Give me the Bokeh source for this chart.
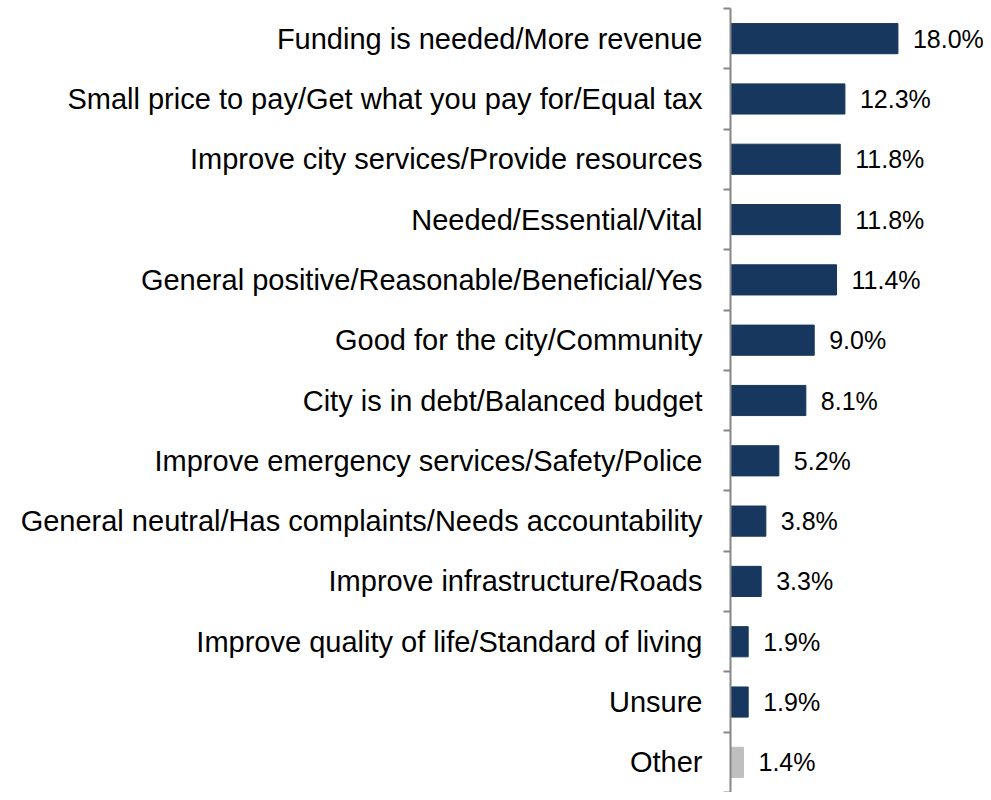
from bokeh.plotting import figure
from bokeh.models import ColumnDataSource, FixedTicker, Range1d
from bokeh.core.properties import value
from bokeh.embed import file_html
from bokeh.resources import INLINE

categories = [
    "Funding is needed/More revenue",
    "Small price to pay/Get what you pay for/Equal tax",
    "Improve city services/Provide resources",
    "Needed/Essential/Vital",
    "General positive/Reasonable/Beneficial/Yes",
    "Good for the city/Community",
    "City is in debt/Balanced budget",
    "Improve emergency services/Safety/Police",
    "General neutral/Has complaints/Needs accountability",
    "Improve infrastructure/Roads",
    "Improve quality of life/Standard of living",
    "Unsure",
    "Other",
]
values = [18.0, 12.3, 11.8, 11.8, 11.4, 9.0, 8.1, 5.2, 3.8, 3.3, 1.9, 1.9, 1.4]
labels = [f"{v:.1f}%" for v in values]

NAVY = "#17375E"
GRAY = "#BFBFBF"
colors = [GRAY if c == "Other" else NAVY for c in categories]

n = len(categories)
ypos = list(range(n))

src = ColumnDataSource(dict(y=ypos, v=values, lab=labels, color=colors))

p = figure(width=983, height=792, output_backend="svg", toolbar_location=None,
           x_range=Range1d(0, 27.2), y_range=Range1d(n - 0.5, -0.5),
           min_border_left=730, min_border_right=0, min_border_top=8, min_border_bottom=0)

p.hbar(y="y", left=0, right="v", height=0.5, color="color", line_color="color", source=src)
p.text(x="v", y="y", text="lab", source=src, x_offset=15, text_baseline="middle",
       text_align="left", text_font=value("Liberation Sans"), text_font_size="25px",
       text_color="#000000")

p.xaxis.visible = False
p.xgrid.visible = False
p.ygrid.visible = False
p.outline_line_color = None

yax = p.yaxis[0]
yax.ticker = FixedTicker(ticks=ypos, minor_ticks=[i - 0.5 for i in range(n + 1)])
yax.major_label_overrides = {i: c for i, c in enumerate(categories)}
yax.major_tick_out = 0
yax.major_tick_in = 0
yax.minor_tick_out = 7
yax.minor_tick_in = 0
yax.minor_tick_line_color = "#868686"
yax.minor_tick_line_width = 2
yax.axis_line_color = "#868686"
yax.axis_line_width = 2
yax.major_label_standoff = 21
yax.major_label_text_font = "Liberation Sans"
yax.major_label_text_font_size = "29px"
yax.major_label_text_color = "#000000"

open("out.html", "w").write(file_html(p, INLINE))
